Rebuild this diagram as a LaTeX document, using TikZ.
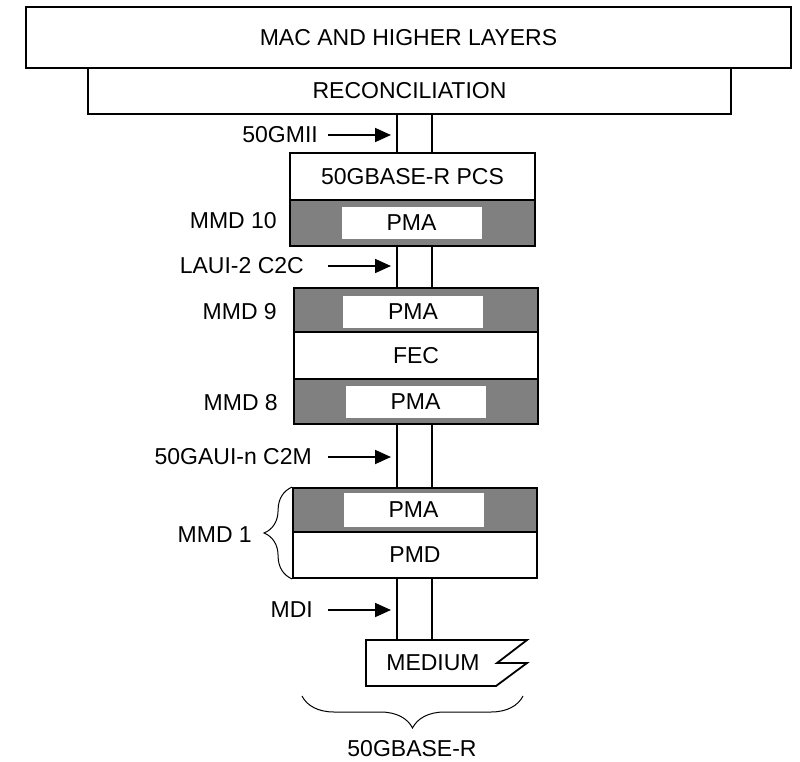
\documentclass[tikz,border=0pt]{standalone}
\usepackage{fontspec}
\setmainfont{Liberation Sans}
\definecolor{pmagray}{RGB}{128,128,128}
\usetikzlibrary{arrows.meta,positioning,calc,decorations.pathreplacing}

\begin{document}
\begin{tikzpicture}[x=1pt,y=-1pt,
  every node/.style={font=\fontsize{23}{26}\selectfont,inner sep=0pt},
  layer/.style={draw,line width=1.8pt,minimum height=46pt},
  shell/.style={layer,fill=pmagray},
  core/.style={fill=white,minimum width=140pt,minimum height=32pt},
  bus/.style={line width=1.8pt},
  arr/.style={line width=1.8pt,-{Triangle[length=16pt,width=14pt]}},
  brc/.style={decorate,decoration={brace,amplitude=#1},line width=1pt}]
  \useasboundingbox (0,0) rectangle (800,762);

  % stack of layers
  \node[layer,minimum width=765pt,minimum height=61pt] (mac) at (408.5,37.5) {MAC AND HIGHER LAYERS};
  \node[layer,minimum width=643pt] (recon) at (409.5,91) {RECONCILIATION};
  \node[layer,minimum width=245pt,minimum height=47pt] (pcs) at (412.5,176.5) {50GBASE-R PCS};
  \node[shell,minimum width=245pt] (pma10) at (412.5,223) {};
  \node[core] (pma10in) at (411.5,223) {PMA};
  \node[shell,minimum width=244pt,minimum height=44pt] (pma9) at (416,310) {};
  \node[core] (pma9in) at (413,312) {PMA};
  \node[layer,minimum width=244pt,minimum height=47pt] (fec) at (416,355.5) {FEC};
  \node[shell,minimum width=244pt,minimum height=45pt] (pma8) at (416,401.5) {};
  \node[core] (pma8in) at (415.5,402) {PMA};
  \node[shell,minimum width=244pt,minimum height=44pt] (pma1) at (415,510) {};
  \node[core,minimum height=34pt] (pma1in) at (413.5,510) {PMA};
  \node[layer,minimum width=244pt] (pmd) at (415,555) {PMD};
  \node[minimum height=46pt] (medium) at (433,663) {MEDIUM};
  \draw[line width=1.8pt] (366,640) -- (527,640) -- (497,663) -- (527,663)
    -- (496,686) -- (366,686) -- cycle;

  % labels on the left
  \node[anchor=east] (lgmii) at (318,135) {50GMII};
  \node[anchor=east] (lmmd10) at (277,221) {MMD 10};
  \node[anchor=east] (llaui) at (304,266) {LAUI-2 C2C};
  \node[anchor=east] (lmmd9) at (277,312) {MMD 9};
  \node[anchor=east] (lmmd8) at (278,403) {MMD 8};
  \node[anchor=east] (lgaui) at (312,457) {50GAUI-n C2M};
  \node[anchor=east] (lmmd1) at (252,535) {MMD 1};
  \node[anchor=east] (lmdi) at (313,610) {MDI};
  \node (lphy) at (412,749) {50GBASE-R};

  % busses between the layers
  \coordinate (busl) at (397,0);
  \coordinate (busr) at (432,0);
  \coordinate (arrl) at (328,0);
  \foreach \b in {busl,busr} {
    \draw[bus] (recon.south -| \b) -- (pcs.north -| \b);
    \draw[bus] (pma10.south -| \b) -- (pma9.north -| \b);
    \draw[bus] (pma8.south -| \b) -- (pma1.north -| \b);
    \draw[bus] (pmd.south -| \b) -- (medium.north -| \b);
  }
  \foreach \l in {lgmii,llaui,lgaui,lmdi}
    \draw[arr,shorten >=6pt] (\l -| arrl) -- (\l -| busl);

  % braces
  \draw[brc=28pt] (pmd.south west) -- (pma1.north west);
  \draw[brc=32pt] (523,696) -- (302,696);
\end{tikzpicture}
\end{document}
